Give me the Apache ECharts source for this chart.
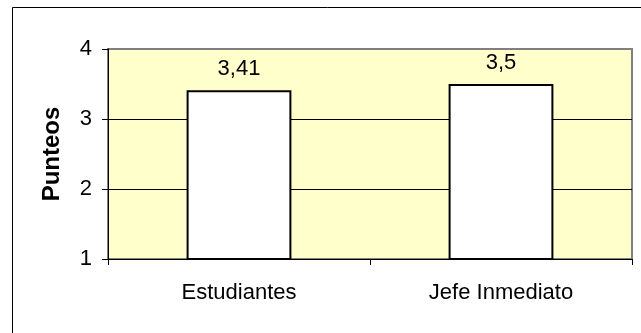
<!DOCTYPE html>
<html>
<head>
<meta charset="utf-8">
<script src="https://cdn.jsdelivr.net/npm/echarts@6/dist/echarts.min.js"></script>
<style>
html,body{margin:0;padding:0;background:#fff;}
#c{width:641px;height:333px;}
</style>
</head>
<body>
<div id="c"></div>
<script>
const categories = ['Estudiantes', 'Jefe Inmediato'];
const values = [3.41, 3.5];
const yTicks = [1, 2, 3, 4];
const yName = 'Punteos';

const chart = echarts.init(document.getElementById('c'), null, {renderer: 'canvas'});
const font = 'Arial, "Liberation Sans", sans-serif';
chart.setOption({
  animation: false,
  backgroundColor: '#fff',
  graphic: [{
    type: 'polyline',
    shape: {points: [[12.5, 340], [12.5, 7.5], [650, 7.5]]},
    style: {fill: 'none', stroke: '#000', lineWidth: 1},
    silent: true,
    z: 0
  }],
  grid: {
    left: 108, top: 49, right: 9, bottom: 74,
    show: true, backgroundColor: '#FFFFCC', borderColor: '#808080', borderWidth: 2
  },
  xAxis: {
    type: 'category',
    data: categories,
    axisLine: {lineStyle: {color: '#000', width: 1}},
    axisTick: {show: true, alignWithLabel: false, length: 6, lineStyle: {color: '#000'}},
    axisLabel: {color: '#000', fontFamily: font, fontSize: 22, margin: 23},
    splitLine: {show: false}
  },
  yAxis: {
    type: 'value',
    min: yTicks[0], max: yTicks[yTicks.length - 1], interval: 1,
    name: yName,
    nameLocation: 'middle',
    nameGap: 44,
    nameRotate: 90,
    nameTextStyle: {color: '#000', fontFamily: font, fontSize: 24, fontWeight: 'bold'},
    axisLine: {show: true, lineStyle: {color: '#000', width: 1}},
    axisTick: {show: true, length: 6, lineStyle: {color: '#000'}},
    axisLabel: {color: '#000', fontFamily: font, fontSize: 22, margin: 16},
    splitLine: {show: true, showMinLine: false, showMaxLine: false, lineStyle: {color: '#000', width: 1}}
  },
  series: [{
    type: 'bar',
    data: values,
    barWidth: '40%',
    itemStyle: {color: '#fff', borderColor: '#000', borderWidth: 2},
    label: {
      show: true, position: 'top', distance: 10,
      color: '#000', fontFamily: font, fontSize: 22,
      formatter: p => String(p.value).replace('.', ',')
    }
  }]
});
</script>
</body>
</html>
